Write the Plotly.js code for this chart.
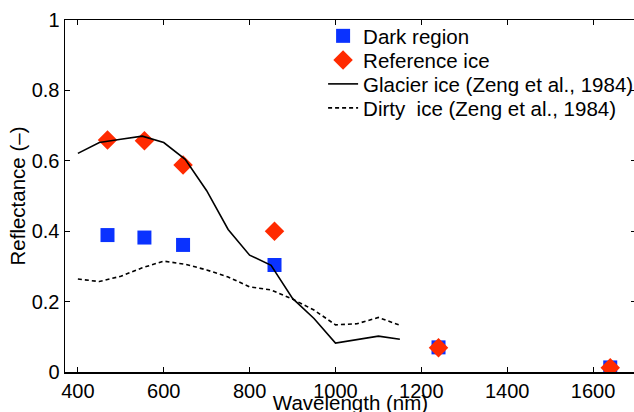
<!DOCTYPE html>
<html>
<head>
<meta charset="utf-8">
<script src="https://cdn.plot.ly/plotly-3.0.1.min.js"></script>
<style>
  html, body { margin: 0; padding: 0; overflow: hidden; background: #fff; }
  #chart { width: 660px; height: 414px; }
</style>
</head>
<body>
<div id="chart"></div>
<script>
// MODIS band wavelengths (nm)
const bandWavelengths = [469, 555, 645, 858, 1240, 1640];
const darkRegion = [0.389, 0.382, 0.361, 0.304, 0.070, 0.013];
const referenceIce = [0.659, 0.657, 0.588, 0.400, 0.069, 0.012];

// Zeng et al. (1984) spectra
const glacierWavelengths = [400, 450, 500, 550, 600, 650, 700, 750, 800, 850, 900, 950, 1000, 1100, 1150];
const glacierIce = [0.621, 0.652, 0.661, 0.670, 0.652, 0.604, 0.515, 0.405, 0.332, 0.303, 0.209, 0.152, 0.082, 0.102, 0.093];

const dirtyWavelengths = [400, 450, 500, 550, 600, 650, 700, 750, 800, 850, 900, 950, 1000, 1050, 1100, 1150];
const dirtyIce = [0.264, 0.257, 0.272, 0.296, 0.315, 0.306, 0.290, 0.270, 0.242, 0.233, 0.207, 0.176, 0.134, 0.137, 0.155, 0.133];

const xTicks = [400, 600, 800, 1000, 1200, 1400, 1600];
const yTicks = [0, 0.2, 0.4, 0.6, 0.8, 1];

const FONT = '"Liberation Sans", Arial, Helvetica, sans-serif';
const TICK_SIZE = 20;
const TEXT_SIZE = 20.5;

const traces = [
  {
    x: bandWavelengths, y: darkRegion, name: 'Dark region', legend: 'legend',
    type: 'scatter', mode: 'markers',
    marker: { symbol: 'square', size: 14, color: '#0a32ff' }
  },
  {
    x: bandWavelengths, y: referenceIce, name: 'Reference ice', legend: 'legend2',
    type: 'scatter', mode: 'markers',
    marker: { symbol: 'diamond', size: 15, color: '#ff2a00' }
  },
  {
    x: glacierWavelengths, y: glacierIce, name: 'Glacier ice (Zeng et al., 1984)', legend: 'legend3',
    type: 'scatter', mode: 'lines',
    line: { color: '#000', width: 1.6 }
  },
  {
    x: dirtyWavelengths, y: dirtyIce, name: 'Dirty\u00a0 ice (Zeng et al., 1984)', legend: 'legend4',
    type: 'scatter', mode: 'lines',
    line: { color: '#000', width: 1.6, dash: '4px,3px' }
  }
];

function legendAt(yc) {
  return {
    x: 0.452, y: yc, xanchor: 'left', yanchor: 'middle',
    bgcolor: 'rgba(0,0,0,0)', borderwidth: 0,
    font: { family: FONT, size: TEXT_SIZE, color: '#000' },
    itemwidth: 30
  };
}

const layout = {
  width: 660, height: 414,
  margin: { l: 65, r: 24, t: 20, b: 42 },
  paper_bgcolor: '#fff', plot_bgcolor: '#fff',
  font: { family: FONT, size: TICK_SIZE, color: '#000' },
  showlegend: true,
  legend: legendAt(0.9545),
  legend2: legendAt(0.886),
  legend3: legendAt(0.818),
  legend4: legendAt(0.750),
  xaxis: {
    range: [370, 1700],
    tickmode: 'array', tickvals: xTicks, ticktext: xTicks.map(String),
    ticks: 'inside', ticklen: 5, tickwidth: 1, tickcolor: '#000',
    showline: true, linecolor: '#000', linewidth: 1.5, mirror: 'ticks',
    showgrid: false, zeroline: false,
    tickfont: { family: FONT, size: TICK_SIZE, color: '#000' },
    title: { text: 'Wavelength (nm)', font: { family: FONT, size: TEXT_SIZE, color: '#000' }, standoff: 2 }
  },
  yaxis: {
    range: [0, 1],
    tickmode: 'array', tickvals: yTicks, ticktext: yTicks.map(String),
    ticks: 'inside', ticklen: 5, tickwidth: 1, tickcolor: '#000',
    showline: true, linecolor: '#000', linewidth: 1.5, mirror: 'ticks',
    showgrid: false, zeroline: false,
    tickfont: { family: FONT, size: TICK_SIZE, color: '#000' },
    title: { text: 'Reflectance (\u2013)', font: { family: FONT, size: TEXT_SIZE, color: '#000' }, standoff: 0 }
  }
};

Plotly.newPlot('chart', traces, layout, { displayModeBar: false, staticPlot: true });
</script>
</body>
</html>
